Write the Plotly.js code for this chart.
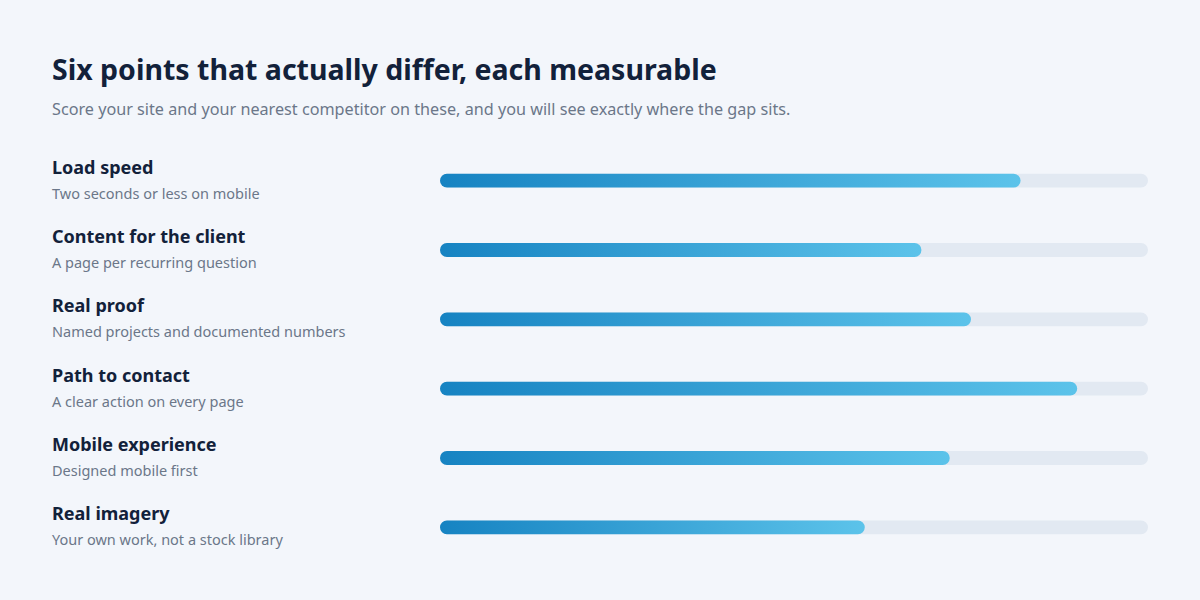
<!DOCTYPE html>
<html>
<head>
<meta charset="utf-8">
<script src="https://cdn.plot.ly/plotly-3.0.1.min.js"></script>
<style>
html,body{margin:0;padding:0;background:#f3f6fb;}
#chart{width:1200px;height:600px;}
</style>
</head>
<body>
<div id="chart"></div>
<script>
const labels = ["Load speed","Content for the client","Real proof","Path to contact","Mobile experience","Real imagery"];
const sublabels = ["Two seconds or less on mobile","A page per recurring question","Named projects and documented numbers","A clear action on every page","Designed mobile first","Your own work, not a stock library"];
const scores = [82, 68, 75, 90, 72, 60];
const maxScore = 100;

const FONT = "Noto Sans, Inter, sans-serif";
const idx = labels.map((_, i) => i);

const track = {
  type: "bar", orientation: "h",
  x: labels.map(() => maxScore), y: idx,
  width: 0.2,
  marker: {color: "#e2e9f2"},
  hoverinfo: "skip", showlegend: false
};
const fill = {
  type: "bar", orientation: "h",
  x: scores, y: idx,
  width: 0.2,
  marker: {color: "#2596d1"},
  hoverinfo: "skip", showlegend: false
};

const plotL = 440, plotW = 708;
const px = p => (p - plotL) / plotW;

const annotations = [];
labels.forEach((l, i) => {
  annotations.push({xref: "paper", yref: "y", x: px(52), xshift: -2, y: i, yshift: 14,
    xanchor: "left", yanchor: "middle", showarrow: false,
    text: l, font: {family: FONT, size: 18, color: "#12213a", weight: 700}});
  annotations.push({xref: "paper", yref: "y", x: px(52), xshift: -2, y: i, yshift: -12,
    xanchor: "left", yanchor: "middle", showarrow: false,
    text: sublabels[i], font: {family: FONT, size: 14.5, color: "#6b7789"}});
});
annotations.push({xref: "paper", yref: "paper", x: px(52), xshift: -2, y: 1, yshift: 146 - 109,
  xanchor: "left", yanchor: "middle", showarrow: false,
  text: "Score your site and your nearest competitor on these, and you will see exactly where the gap sits.",
  font: {family: FONT, size: 16.2, color: "#6b7789"}});

const layout = {
  width: 1200, height: 600,
  paper_bgcolor: "#f3f6fb", plot_bgcolor: "#f3f6fb",
  margin: {l: 440, r: 52, t: 146, b: 38},
  barmode: "overlay",
  title: {text: "<b>Six points that actually differ, each measurable</b>",
    xref: "container", yref: "container", x: 52/1200, xanchor: "left",
    y: 1 - 70/600, yanchor: "middle",
    font: {family: FONT, size: 28.5, color: "#12213a"}},
  xaxis: {range: [0, maxScore], visible: false, fixedrange: true},
  yaxis: {range: [5.5, -0.5], visible: false, fixedrange: true},
  annotations: annotations
};

Plotly.newPlot("chart", [track, fill], layout, {staticPlot: true}).then(gd => {
  const svg = gd.querySelector("svg.main-svg");
  const ns = "http://www.w3.org/2000/svg";
  const defs = svg.querySelector("defs");
  const g = document.createElementNS(ns, "linearGradient");
  g.setAttribute("id", "barGrad");
  g.setAttribute("x1", "0"); g.setAttribute("y1", "0");
  g.setAttribute("x2", "1"); g.setAttribute("y2", "0");
  [["0%", "#1683c2"], ["100%", "#5cc3ea"]].forEach(([o, c]) => {
    const s = document.createElementNS(ns, "stop");
    s.setAttribute("offset", o); s.setAttribute("stop-color", c);
    g.appendChild(s);
  });
  defs.appendChild(g);
  // round both ends of every bar (pill shape), using the geometry Plotly computed
  const traces = gd.querySelectorAll(".barlayer .trace");
  traces.forEach((t, ti) => {
    t.querySelectorAll("path").forEach(p => {
      const b = p.getBBox();
      if (!b.width) return;
      const r = Math.min(b.height / 2, b.width / 2);
      const x0 = b.x, x1 = b.x + b.width, y0 = b.y, y1 = b.y + b.height;
      p.setAttribute("d",
        `M${x0 + r},${y0}H${x1 - r}A${r},${r} 0 0 1 ${x1 - r},${y1}H${x0 + r}A${r},${r} 0 0 1 ${x0 + r},${y0}Z`);
      if (ti === 1) p.style.fill = "url(#barGrad)";
    });
  });
});
</script>
</body>
</html>
